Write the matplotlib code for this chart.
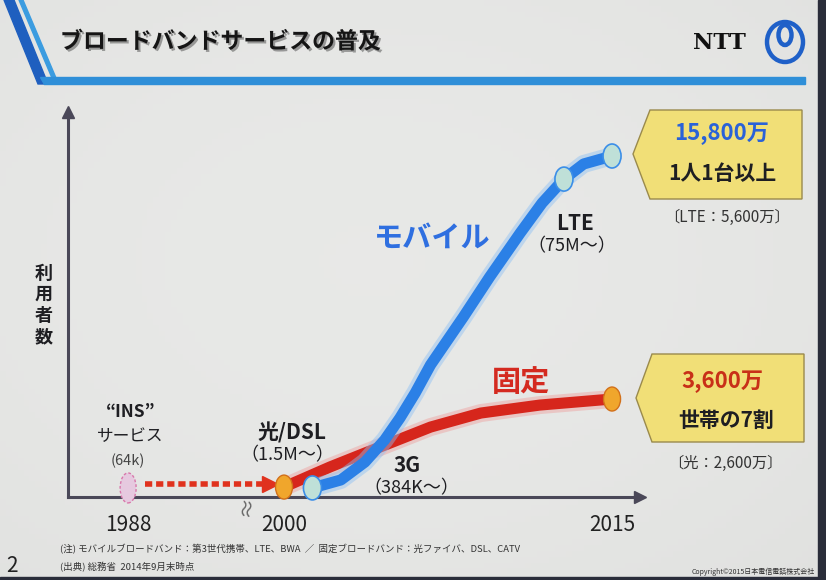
#!/usr/bin/env python3
"""Broadband adoption slide (mobile vs fixed) redrawn with matplotlib"""

import numpy as np
import matplotlib.pyplot as plt
from matplotlib.patches import Polygon, Ellipse
import matplotlib.patheffects as pe

plt.rcParams['font.family'] = ['Noto Sans CJK JP', 'DejaVu Sans']

# ---- data (schematic values, 万 users) ----
mobile_years = [2001.3, 2002.6, 2003.7, 2004.6, 2005.3, 2006.0, 2006.7,
                2008.2, 2009.4, 2010.8, 2011.8, 2012.8, 2013.7, 2015.0]
mobile_users = [420, 790, 1620, 2640, 3660, 4820, 6120,
                8340, 10190, 12230, 13620, 14730, 15430, 15800]
mobile_marks = [0, 11, 13]

fixed_years = [2000.0, 2002.1, 2004.4, 2006.7, 2009.0, 2011.7, 2015.0]
fixed_users = [460, 1390, 2320, 3240, 3890, 4260, 4540]
fixed_marks = [0, 6]

ins_year, ins_users = 1988, 420
tick_years = [1988, 2000, 2015]
tick_labels = ['1988', '2000', '2015']

# pixel mapping of the slide (826 x 580)
W, H = 826, 580
X0, XS = 284, 21.87          # px of year 2000, px per year
Y0, YS = 497, 15800 / 341    # px of zero users, users per px
BREAK = 0.594                # compression before 2000 (axis break)


def xpos(year):
    return year if year >= 2000 else 2000 - (2000 - year) * BREAK


def px_to_x(p):
    return 2000 + (p - X0) / XS


def py_to_y(p):
    return (Y0 - p) * YS


BLUE = '#2b80e6'
RED = '#d6261c'
TXT = '#1e1e22'

fig = plt.figure(figsize=(W / 100, H / 100), dpi=100)

# background / decoration axes in pixel coords
bg = fig.add_axes([0, 0, 1, 1])
bg.set_xlim(0, W)
bg.set_ylim(H, 0)
bg.axis('off')

yy, xx = np.mgrid[0:1:100j, 0:1:140j]
shade = 0.91 - 0.05 * ((xx - 0.45) ** 2 + (yy - 0.45) ** 2)
bg.imshow(np.dstack([shade, shade + 0.003, shade - 0.004]), extent=(0, W, H, 0),
          aspect='auto', zorder=0)
bg.add_patch(Polygon([(818, 0), (W, 0), (W, H), (818, H)], color='#2a2d3a', zorder=1))
bg.add_patch(Polygon([(0, 577), (W, 577), (W, H), (0, H)], color='#2a2d3a', zorder=1))

# header stripes
bg.add_patch(Polygon([(4, 0), (14, 0), (48, 84), (38, 84)], color='#1f5fbf', zorder=2))
bg.add_patch(Polygon([(19, 0), (23, 0), (56, 78), (52, 78)], color='#3b9ce0', zorder=2))
bg.add_patch(Polygon([(40, 77), (805, 77), (805, 84), (44, 84)], color='#2f8fd8', zorder=2))

title = bg.text(60, 42, 'ブロードバンドサービスの普及', fontsize=16.5, fontweight='bold',
                color='#151515', va='center', ha='left', zorder=3)
title.set_path_effects([pe.withSimplePatchShadow(offset=(1.5, -1.5), alpha=0.35)])

bg.text(719, 43, 'NTT', fontsize=16, fontweight='bold', family='DejaVu Serif',
        color='#111', ha='center', va='center', zorder=3)
bg.add_patch(Ellipse((785, 42), 36, 40, fill=False, ec='#1f60c8', lw=3.2, zorder=3))
bg.add_patch(Ellipse((785, 35), 13, 20, fill=False, ec='#1f60c8', lw=3.2, zorder=3))

# right hand call-out boxes
bg.add_patch(Polygon([(633, 154), (650, 110), (802, 110), (802, 199), (650, 199)],
                     fc='#f1df77', ec='#9a8a4c', lw=1, zorder=2))
bg.add_patch(Polygon([(636, 398), (652, 354), (804, 354), (804, 442), (652, 442)],
                     fc='#f1df77', ec='#9a8a4c', lw=1, zorder=2))
bg.text(722, 134, '15,800万', fontsize=16, fontweight='bold', color='#2a62d8',
        ha='center', va='center', zorder=3)
bg.text(722, 173, '1人1台以上', fontsize=15, fontweight='bold', color=TXT,
        ha='center', va='center', zorder=3)
bg.text(727, 217, '〔LTE：5,600万〕', fontsize=11, color='#333',
        ha='center', va='center', zorder=3)
bg.text(722, 382, '3,600万', fontsize=16, fontweight='bold', color='#c83018',
        ha='center', va='center', zorder=3)
bg.text(726, 420, '世帯の7割', fontsize=15, fontweight='bold', color=TXT,
        ha='center', va='center', zorder=3)
bg.text(725, 463, '〔光：2,600万〕', fontsize=11, color='#333',
        ha='center', va='center', zorder=3)

# footnotes
bg.text(60, 549, '(注) モバイルブロードバンド：第3世代携帯、LTE、BWA  ／  固定ブロードバンド：光ファイバ、DSL、CATV',
        fontsize=6.8, color='#333', va='center', zorder=3)
bg.text(60, 567, '(出典) 総務省  2014年9月末時点', fontsize=6.8, color='#333',
        va='center', zorder=3)
bg.text(6, 566, '2', fontsize=15, color='#222', va='center', zorder=3)
bg.text(815, 572, 'Copyright©2015日本電信電話株式会社', fontsize=5, color='#333',
        ha='right', va='center', zorder=3)

# y label stacked vertically
bg.text(44, 305, '利\n用\n者\n数', fontsize=13, fontweight='bold', color=TXT,
        ha='center', va='center', linespacing=1.15, zorder=3)

# ---- data axes, aligned with the slide pixels ----
ax = fig.add_axes([0, 0, 1, 1])
ax.patch.set_alpha(0)
ax.set_xlim(px_to_x(0), px_to_x(W))
ax.set_ylim(py_to_y(H), py_to_y(0))
for s in ['top', 'right']:
    ax.spines[s].set_visible(False)
axis_col = '#4a4858'
x_left = px_to_x(68)
ax.spines['left'].set_position(('data', x_left))
ax.spines['bottom'].set_position(('data', 0))
ax.spines['left'].set_bounds(0, py_to_y(118))
ax.spines['bottom'].set_bounds(x_left, px_to_x(636))
for s in ['left', 'bottom']:
    ax.spines[s].set_color(axis_col)
    ax.spines[s].set_linewidth(2.2)
ax.plot([x_left], [py_to_y(112)], marker='^', ms=9, color=axis_col, clip_on=False)
ax.plot([px_to_x(640)], [0], marker='>', ms=9, color=axis_col, clip_on=False)
ax.set_yticks([])
ax.set_xticks([xpos(y) for y in tick_years], tick_labels)
ax.tick_params(axis='x', length=0, pad=12, labelsize=15, labelcolor='#222')
ax.text(xpos(1997.1), py_to_y(506), '≈', fontsize=15, color='#666', rotation=80,
        ha='center', va='center')

# INS era: dashed red arrow to the broadband start
ax.add_patch(Ellipse((xpos(ins_year), ins_users), 16 / XS, 30 * YS, fc='#e6c9df',
                     ec='#d877aa', lw=1, ls=(0, (2, 1.5)), zorder=4))
arrow_y = ins_users + 200
ax.plot([xpos(ins_year) + 0.75, px_to_x(266)], [arrow_y, arrow_y], color='#e0321e',
        lw=4, ls=(0, (1.3, 0.7)), solid_capstyle='butt', zorder=4)
ax.plot([px_to_x(270)], [arrow_y], marker='>', ms=11, color='#e0321e', zorder=4)
ax.text(xpos(ins_year) + 0.1, py_to_y(412), '“INS”', fontsize=12.5, fontweight='bold',
        color=TXT, ha='center', va='center')
ax.text(xpos(ins_year) + 0.1, py_to_y(437), 'サービス', fontsize=12, color=TXT,
        ha='center', va='center')
ax.text(xpos(ins_year), py_to_y(461), '(64k)', fontsize=10.5, color='#444',
        ha='center', va='center')

# series
ax.plot(fixed_years, fixed_users, color='#f08a88', lw=13, alpha=0.35,
        solid_capstyle='round', zorder=5)
ax.plot(fixed_years, fixed_users, color=RED, lw=8, solid_capstyle='round',
        solid_joinstyle='round', zorder=6)
ax.plot(mobile_years, mobile_users, color='#8cc0f4', lw=13, alpha=0.45,
        solid_capstyle='round', zorder=7)
ax.plot(mobile_years, mobile_users, color=BLUE, lw=8, solid_capstyle='round',
        solid_joinstyle='round', zorder=8)
for i in fixed_marks:
    ax.add_patch(Ellipse((fixed_years[i], fixed_users[i]), 17 / XS, 24 * YS,
                         fc='#f0a62c', ec='#d2701a', lw=1, zorder=9))
for i in mobile_marks:
    ax.add_patch(Ellipse((mobile_years[i], mobile_users[i]), 18 / XS, 24 * YS,
                         fc='#bfe0d8', ec='#3b8ee8', lw=1.2, zorder=9))

# annotations
ax.text(px_to_x(292), py_to_y(433), '光/DSL', fontsize=15, fontweight='bold',
        color=TXT, ha='center', va='center')
ax.text(px_to_x(287), py_to_y(455), '（1.5M～）', fontsize=13, color=TXT,
        ha='center', va='center')
ax.text(px_to_x(407), py_to_y(465), '3G', fontsize=15, fontweight='bold',
        color=TXT, ha='center', va='center')
ax.text(px_to_x(411), py_to_y(488), '（384K～）', fontsize=13, color=TXT,
        ha='center', va='center')
ax.text(px_to_x(575), py_to_y(224), 'LTE', fontsize=15, fontweight='bold',
        color=TXT, ha='center', va='center')
ax.text(px_to_x(572), py_to_y(246), '（75M～）', fontsize=13, color=TXT,
        ha='center', va='center')
ax.text(px_to_x(432), py_to_y(238), 'モバイル', fontsize=21, fontweight='bold',
        color='#2f6fe0', ha='center', va='center', zorder=10)
ax.text(px_to_x(521), py_to_y(382), '固定', fontsize=21, fontweight='bold',
        color='#d42a20', ha='center', va='center', zorder=10)

fig.savefig('out.png', dpi=100)
